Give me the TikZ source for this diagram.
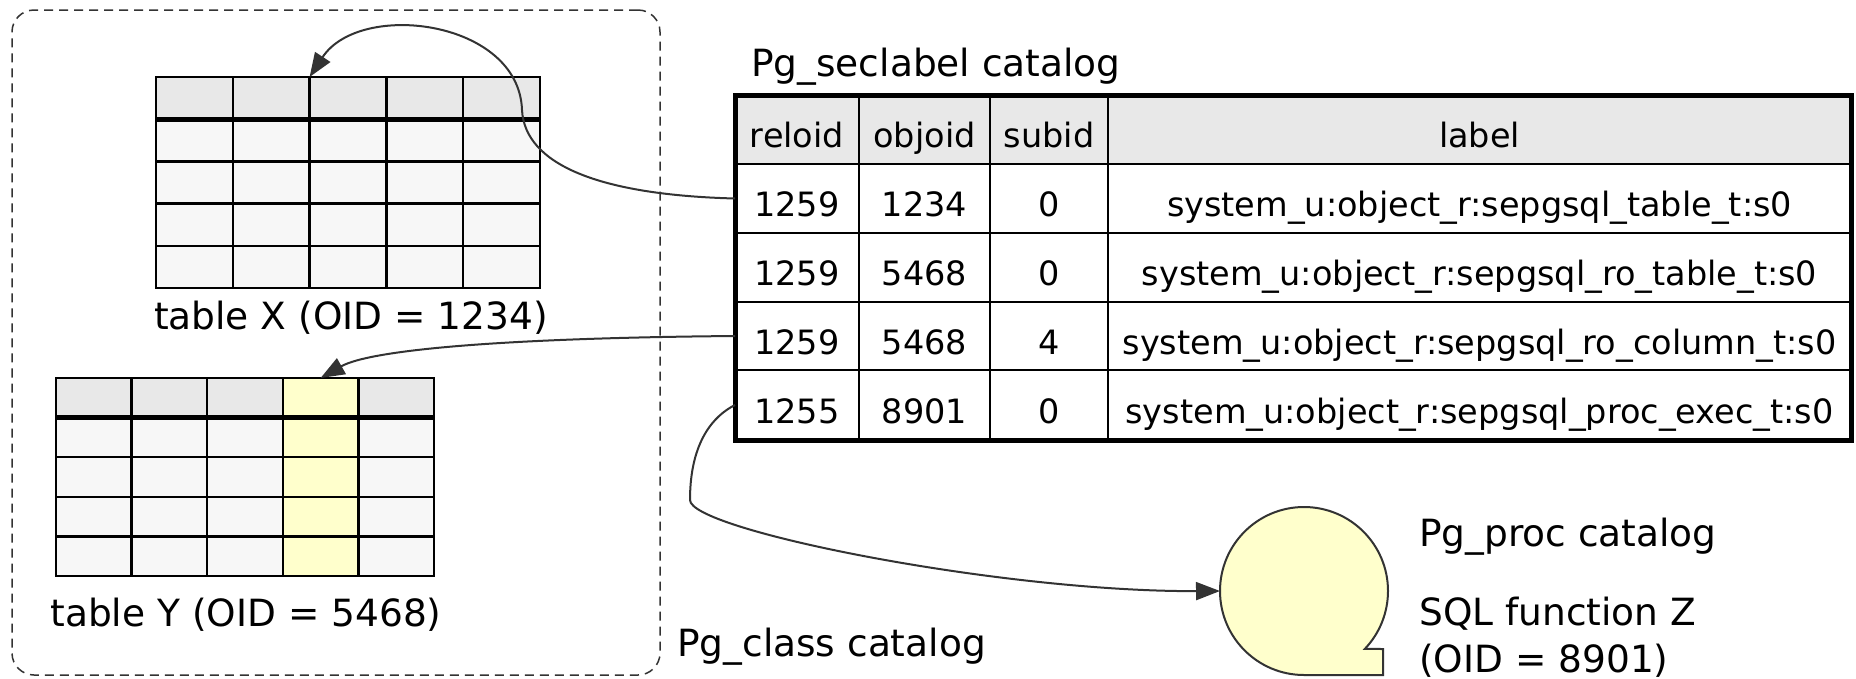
\documentclass[tikz,border=0pt]{standalone}
\usepackage{fontspec}
\setmainfont{DejaVu Sans}
\usetikzlibrary{arrows.meta}
\definecolor{hdr}{HTML}{E8E8E8}
\definecolor{bodyc}{HTML}{F7F7F7}
\definecolor{ylw}{HTML}{FFFFCC}
\definecolor{ink}{HTML}{333333}
\newcommand\seccell[7]{\node[sc, fill=#7, minimum width={#3-#2}, minimum height={#5-#4}] (#1) at ({(#2+#3)/2},{(#4+#5)/2}) {#6};}
\begin{document}
\begin{tikzpicture}[x=1pt,y=-1pt,
  lbl/.style={font=\fontsize{37.5}{47}\selectfont, inner sep=0pt},
  sc/.style={draw=black, line width=2.5pt, inner sep=0pt, outer sep=0pt, text height=36pt, text depth=0pt, font=\fontsize{33.5}{40}\selectfont},
  tcell/.style={draw=black, line width=2.5pt, inner sep=0pt, outer sep=0pt},
  link/.style={draw=ink, line width=2pt, -{Triangle[length=24pt,width=18pt]}},
  classbox/.style={draw=ink, line width=1.5pt, dash pattern=on 9pt off 6pt, rounded corners=22pt, inner sep=0pt},
]
\useasboundingbox (0,0) rectangle (1856,678);

% Pg_class dashed group
\node[classbox, minimum width=648, minimum height=665] (pgclass) at (336,342.5) {};

% table X
\fill[bodyc] (156,77) rectangle (540,288);
\fill[hdr] (156,77) rectangle (540,119.2);
\foreach \c in {1,...,5}{
  \foreach \r in {0,...,4}{
    \node[tcell, minimum width=76.8, minimum height=42.2] (tx-\r-\c) at ({156+(\c-0.5)*76.8},{77+(\r+0.5)*42.2}) {};
  }
}
\draw[line width=5pt] (tx-0-1.south west) -- (tx-0-5.south east);
\node[lbl] (txlbl) at (351,318) {table X (OID = 1234)};

% table Y
\fill[bodyc] (56,378) rectangle (434,576);
\fill[hdr] (56,378) rectangle (434,417.6);
\fill[ylw] (282.8,378) rectangle (358.4,576);
\foreach \c in {1,...,5}{
  \foreach \r in {0,...,4}{
    \node[tcell, minimum width=75.6, minimum height=39.6] (ty-\r-\c) at ({56+(\c-0.5)*75.6},{378+(\r+0.5)*39.6}) {};
  }
}
\draw[line width=5pt] (ty-0-1.south west) -- (ty-0-5.south east);
\node[lbl] (tylbl) at (246,615) {table Y (OID = 5468)};

\node[lbl, anchor=west] (classcap) at (677,647) {Pg\_class catalog};

% Pg_seclabel table
\node[lbl, anchor=west] (seccap) at (751,67) {Pg\_seclabel catalog};
\seccell{s-0-1}{735}{859}{95}{164}{reloid}{hdr}
\seccell{s-0-2}{859}{990}{95}{164}{objoid}{hdr}
\seccell{s-0-3}{990}{1108}{95}{164}{subid}{hdr}
\seccell{s-0-4}{1108}{1851}{95}{164}{label}{hdr}
\seccell{s-1-1}{735}{859}{164}{233}{1259}{white}
\seccell{s-1-2}{859}{990}{164}{233}{1234}{white}
\seccell{s-1-3}{990}{1108}{164}{233}{0}{white}
\seccell{s-1-4}{1108}{1851}{164}{233}{system\_u:object\_r:sepgsql\_table\_t:s0}{white}
\seccell{s-2-1}{735}{859}{233}{302}{1259}{white}
\seccell{s-2-2}{859}{990}{233}{302}{5468}{white}
\seccell{s-2-3}{990}{1108}{233}{302}{0}{white}
\seccell{s-2-4}{1108}{1851}{233}{302}{system\_u:object\_r:sepgsql\_ro\_table\_t:s0}{white}
\seccell{s-3-1}{735}{859}{302}{370}{1259}{white}
\seccell{s-3-2}{859}{990}{302}{370}{5468}{white}
\seccell{s-3-3}{990}{1108}{302}{370}{4}{white}
\seccell{s-3-4}{1108}{1851}{302}{370}{system\_u:object\_r:sepgsql\_ro\_column\_t:s0}{white}
\seccell{s-4-1}{735}{859}{370}{440}{1255}{white}
\seccell{s-4-2}{859}{990}{370}{440}{8901}{white}
\seccell{s-4-3}{990}{1108}{370}{440}{0}{white}
\seccell{s-4-4}{1108}{1851}{370}{440}{system\_u:object\_r:sepgsql\_proc\_exec\_t:s0}{white}
\draw[line width=5pt] (s-0-1.north west) rectangle (s-4-4.south east);

% Pg_proc
\node[circle, minimum size=168, inner sep=0pt, outer sep=0pt] (proc) at (1304,591) {};
\draw[draw=ink, fill=ylw, line width=2pt] (proc.south) arc[start angle=90, end angle=403.6, radius=84] -- (1383,649) -- (1383,675) -- cycle;
\node[lbl, anchor=west] (proccap) at (1419,537) {Pg\_proc catalog};
\node[lbl, anchor=west, align=left] (procz) at (1419,637) {SQL function Z\\(OID = 8901)};

% connectors
\draw[link] (s-1-1.west) .. controls (600,195) and (525,165) .. (522,110) .. controls (519,20) and (360,0) .. (tx-0-3.north west);
\draw[link] (s-3-1.west) .. controls (500,338) and (370,350) .. (ty-0-4.north);
\draw[link] (s-4-1.west) .. controls (715,415) and (690,440) .. (690,500) .. controls (690,530) and (1000,592) .. (proc.west);
\end{tikzpicture}
\end{document}
